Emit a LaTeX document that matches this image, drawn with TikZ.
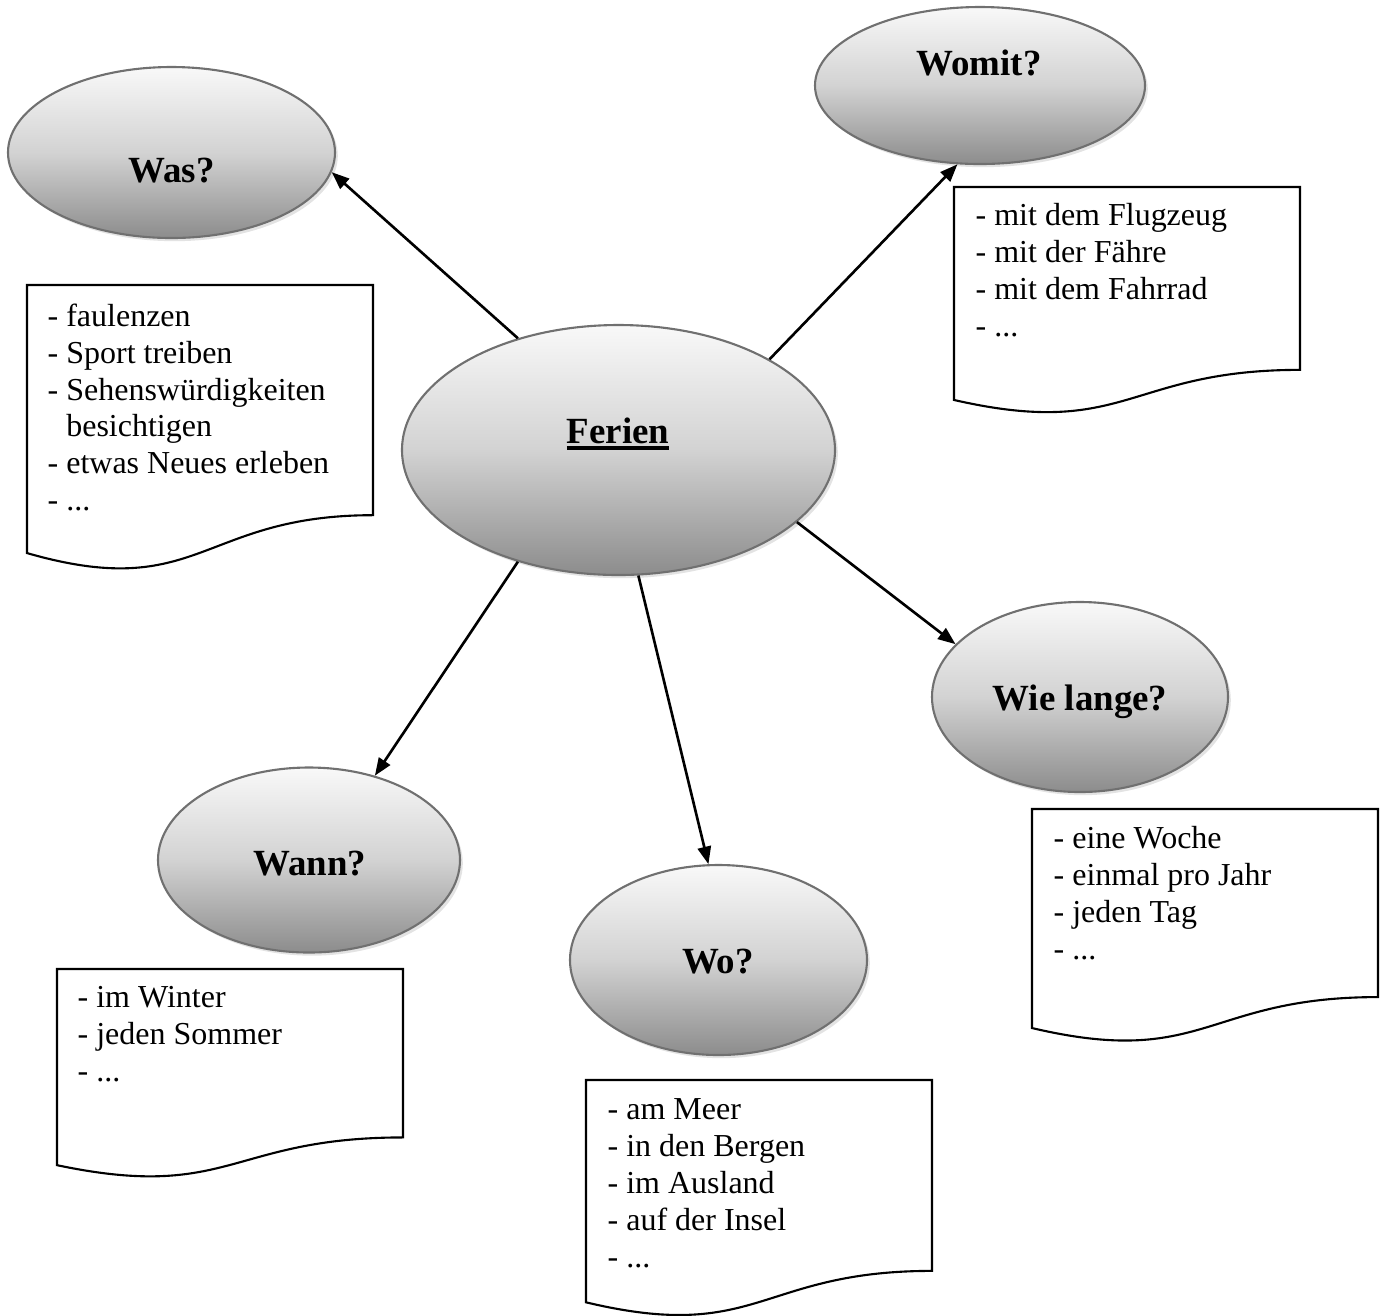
\documentclass[tikz,border=0pt]{standalone}
\usepackage{fontspec}
\setmainfont{Liberation Serif}
\usetikzlibrary{shapes.geometric,shadows,arrows.meta}

\definecolor{rimgray}{HTML}{707070}

\newcommand{\docshape}[4]{%
  \draw[docline] (#1,#2) -- (#1+#3,#2) -- (#1+#3,#2-0.802*#4)
    .. controls (#1+0.5*#3,#2-0.802*#4) and (#1+0.5*#3,#2-1.1075*#4) .. (#1,#2-0.934*#4) -- cycle;}
\newcommand{\thickul}[1]{\setbox0\hbox{#1}\rlap{\rule[-1.9pt]{\wd0}{1pt}}\box0}

\tikzset{
  bubble/.style={ellipse, draw=rimgray, line width=0.6pt, inner sep=0pt,
    top color=gray!5, bottom color=gray!90, middle color=gray!35,
    drop shadow={shadow xshift=0.8pt, shadow yshift=-0.9pt, fill=black!22}},
  question/.style={font=\fontsize{10.5}{12.6}\selectfont\bfseries, inner sep=0pt, anchor=base},
  notes/.style={font=\fontsize{9.1}{10.5}\selectfont, align=left, inner sep=0pt, anchor=north west},
  docline/.style={draw=black, line width=0.6pt, fill=white},
  link/.style={-{Triangle[length=5pt,width=3.8pt]}, line width=0.75pt}
}

\begin{document}
\begin{tikzpicture}
        \useasboundingbox (0,0) rectangle (13.82,-13.15);

        % Question bubbles
        \node[bubble, minimum width=3.27cm, minimum height=1.71cm] (was) at (1.715,-1.525) {};
        \node[bubble, minimum width=3.30cm, minimum height=1.57cm] (womit) at (9.80,-0.855) {};
        \node[bubble, minimum width=4.33cm, minimum height=2.50cm] (ferien) at (6.185,-4.50) {};
        \node[bubble, minimum width=2.96cm, minimum height=1.90cm] (wielange) at (10.80,-6.97) {};
        \node[bubble, minimum width=3.02cm, minimum height=1.85cm] (wann) at (3.09,-8.60) {};
        \node[bubble, minimum width=2.97cm, minimum height=1.90cm] (wo) at (7.185,-9.60) {};

        \node[question] (was-t) at (1.715,-1.82) {Was?};
        \node[question] (womit-t) at (9.79,-0.75) {Womit?};
        \node[question] (ferien-t) at (6.18,-4.43) {\thickul{Ferien}};
        \node[question] (wielange-t) at (10.80,-7.10) {Wie lange?};
        \node[question] (wann-t) at (3.10,-8.75) {Wann?};
        \node[question] (wo-t) at (7.18,-9.73) {Wo?};

        % Note sheets
        \foreach \x/\y/\h in {0.27/-2.85/2.87, 9.54/-1.87/2.28, 10.32/-8.09/2.345, 0.57/-9.69/2.10, 5.86/-10.80/2.38} {
            \docshape{\x}{\y}{3.46}{\h}
        }

        \node[notes] (was-n) at (0.47,-3.03) {- faulenzen\\- Sport treiben\\- Sehensw\"urdigkeiten\\\phantom{-~}besichtigen\\- etwas Neues erleben\\- ...};
        \node[notes] (womit-n) at (9.75,-2.03) {- mit dem Flugzeug\\- mit der F\"ahre\\- mit dem Fahrrad\\- ...};
        \node[notes] (wielange-n) at (10.53,-8.26) {- eine Woche\\- einmal pro Jahr\\- jeden Tag\\- ...};
        \node[notes] (wann-n) at (0.77,-9.86) {- im Winter\\- jeden Sommer\\- ...};
        \node[notes] (wo-n) at (6.07,-10.98) {- am Meer\\- in den Bergen\\- im Ausland\\- auf der Insel\\- ...};

        % Arrows from the centre
        \foreach \from/\to in {ferien.132/was.-7, ferien.31/womit.-106, ferien.-22/wielange.157, ferien.-132/wann.52, ferien.-81/wo.96} {
            \draw[link] (\from) -- (\to);
        }

\end{tikzpicture}
\end{document}
